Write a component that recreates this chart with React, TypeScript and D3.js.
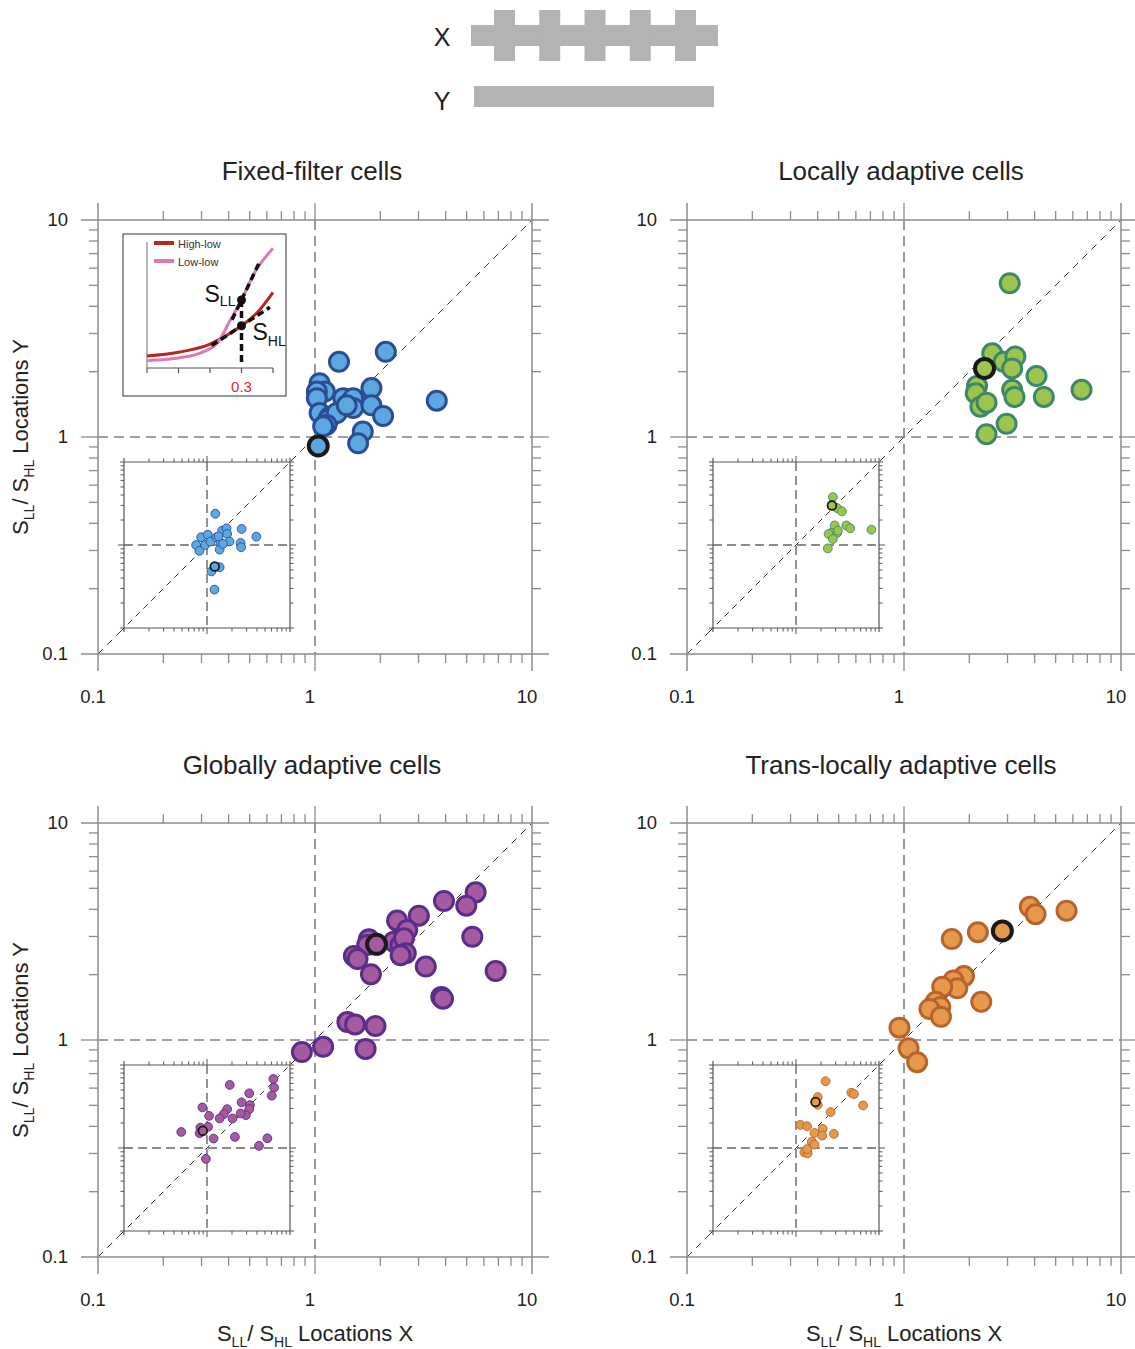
import React, { useEffect, useRef } from 'react'
import * as d3 from 'd3'

// ---- data ----
const fixedX = [1.29, 2.12, 1.05, 1.11, 1.02, 1.02, 1.82, 1.35, 1.5, 1.5, 1.82, 2.06, 1.05, 1.17, 1.15, 1.26, 1.13, 3.64, 1.66, 1.58, 1.09, 1.4]
const fixedY = [2.22, 2.47, 1.77, 1.62, 1.62, 1.51, 1.68, 1.51, 1.51, 1.36, 1.4, 1.25, 1.29, 1.24, 1.2, 1.29, 1.14, 1.47, 1.06, 0.935, 1.12, 1.4]
const fixedHi = [1.035, 0.909]
const fixedInsetX = [1.26, 0.85, 1.02, 0.74, 0.81, 0.95, 1.1, 1.3, 1.52, 1.72, 1.75, 1.45, 1.87, 1.42, 2.61, 2.54, 2.58, 3.93, 1.42, 1.13, 1.23, 1.38, 1.56]
const fixedInsetY = [2.38, 1.24, 1.33, 1.0, 0.85, 1.0, 1.1, 1.24, 1.49, 1.59, 1.36, 1.06, 1.1, 0.88, 1.56, 1.06, 0.94, 1.26, 0.54, 0.48, 0.29, 1.27, 1.03]
const fixedInsetHi = [1.24, 0.55]

const localX = [3.07, 2.55, 2.88, 3.26, 3.15, 4.08, 2.17, 2.14, 3.15, 3.23, 4.41, 6.58, 2.25, 2.4, 2.97, 2.4]
const localY = [5.11, 2.43, 2.22, 2.35, 2.07, 1.91, 1.72, 1.59, 1.65, 1.53, 1.53, 1.65, 1.38, 1.44, 1.15, 1.03]
const localHi = [2.35, 2.07]
const localInsetX = [2.78, 3.14, 3.58, 2.92, 4.04, 4.51, 8.11, 2.66, 3.14, 2.47, 2.78, 2.42, 3.2]
const localInsetY = [3.78, 2.78, 2.54, 1.72, 1.72, 1.59, 1.53, 1.4, 1.4, 1.36, 1.18, 0.91, 1.49]
const localInsetHi = [2.71, 3.0]

const globalX = [5.5, 3.93, 4.98, 3.01, 2.39, 2.66, 5.31, 1.77, 2.31, 2.48, 2.57, 1.74, 1.51, 1.57, 2.62, 2.48, 3.24, 1.81, 6.8, 3.82, 3.89, 1.41, 1.53, 1.9, 1.09, 1.71, 0.87]
const globalY = [4.79, 4.37, 4.16, 3.74, 3.55, 3.21, 2.99, 2.91, 2.84, 2.74, 2.94, 2.74, 2.44, 2.36, 2.51, 2.46, 2.18, 2.01, 2.08, 1.58, 1.55, 1.21, 1.18, 1.16, 0.93, 0.91, 0.88]
const globalHi = [1.92, 2.76]
const globalInsetX = [1.88, 6.31, 6.43, 6.03, 3.23, 2.61, 3.29, 3.23, 1.75, 2.94, 2.54, 1.59, 2.03, 1.42, 0.88, 1.06, 1.03, 0.83, 0.815, 0.49, 1.2, 2.17, 5.34, 4.23, 0.97]
const globalInsetY = [5.75, 6.79, 5.34, 4.27, 4.56, 3.55, 3.29, 2.94, 2.94, 2.49, 2.61, 2.56, 2.27, 2.27, 3.08, 2.44, 1.8, 1.76, 1.51, 1.56, 1.3, 1.36, 1.31, 1.06, 0.74]
const globalInsetHi = [0.89, 1.61]

const transX = [3.8, 4.04, 5.61, 2.19, 1.66, 1.89, 1.69, 1.76, 1.5, 2.27, 1.4, 1.47, 1.31, 1.48, 0.953, 1.05, 1.15]
const transY = [4.11, 3.8, 3.94, 3.14, 2.92, 1.97, 1.88, 1.73, 1.76, 1.5, 1.5, 1.42, 1.39, 1.28, 1.14, 0.915, 0.79]
const transHi = [2.84, 3.18]
const transInsetX = [2.27, 1.83, 1.83, 4.64, 5.0, 6.43, 2.61, 1.13, 1.36, 2.1, 1.67, 2.07, 2.86, 1.55, 1.67, 1.26, 1.38, 1.36]
const transInsetY = [6.37, 4.11, 3.32, 4.64, 4.47, 3.26, 2.71, 1.9, 1.83, 1.7, 1.52, 1.41, 1.48, 1.19, 1.1, 0.886, 0.861, 0.97]
const transInsetHi = [1.72, 3.58]

// schematic inset (threshold curves)
const schemTicks = [0, 0.1, 0.2, 0.3, 0.4]
const highLowX = [0, 0.1, 0.2, 0.25, 0.3, 0.35, 0.4]
const highLowY = [0.095, 0.125, 0.19, 0.255, 0.335, 0.44, 0.6]
const lowLowX = [0, 0.1, 0.18, 0.23, 0.26, 0.3, 0.34, 0.4]
const lowLowY = [0.06, 0.08, 0.13, 0.22, 0.36, 0.54, 0.75, 0.95]
const tangentLLX = [0.27, 0.36]
const tangentLLY = [0.383, 0.855]
const tangentHLX = [0.205, 0.39]
const tangentHLY = [0.178, 0.482]
const schemDotX = 0.3
const schemDotsY = [0.54, 0.335]

const stimulusBumps = [0, 1, 2, 3, 4]

const majorTicks = [0.1, 1, 10]
const tickLabels = ['0.1', '1', '10']
const minorTicks = [2, 3, 4, 5, 6, 7, 8, 9].flatMap((k) => [0.1 * k, k])

const titles = ['Fixed-filter cells', 'Locally adaptive cells', 'Globally adaptive cells', 'Trans-locally adaptive cells']

const FONT = "'Liberation Sans', Arial, Helvetica, sans-serif"
const SIZE = 434
const INSET = 166

const panels = [
  { x: fixedX, y: fixedY, hi: fixedHi, ix: fixedInsetX, iy: fixedInsetY, ihi: fixedInsetHi, fill: '#5ba8e0', stroke: '#2b4d95' },
  { x: localX, y: localY, hi: localHi, ix: localInsetX, iy: localInsetY, ihi: localInsetHi, fill: '#9cc54e', stroke: '#3d8869' },
  { x: globalX, y: globalY, hi: globalHi, ix: globalInsetX, iy: globalInsetY, ihi: globalInsetHi, fill: '#a65aa0', stroke: '#5a2d8b' },
  { x: transX, y: transY, hi: transHi, ix: transInsetX, iy: transInsetY, ihi: transInsetHi, fill: '#e6994b', stroke: '#b8632c' },
]

const layout = [
  { x0: 98, y0: 220, titleY: 180, yLabel: true, xLabel: false, schematic: true },
  { x0: 687, y0: 220, titleY: 180, yLabel: false, xLabel: false, schematic: false },
  { x0: 98, y0: 823, titleY: 774, yLabel: true, xLabel: true, schematic: false },
  { x0: 687, y0: 823, titleY: 774, yLabel: false, xLabel: true, schematic: false },
]

function ratioLabel(t: any, suffix: string) {
  t.append('tspan').text('S')
  t.append('tspan').attr('font-size', 14).attr('dy', 6).text('LL')
  t.append('tspan').attr('dy', -6).text('/ S')
  t.append('tspan').attr('font-size', 14).attr('dy', 6).text('HL')
  t.append('tspan').attr('dy', -6).text(' ' + suffix)
}

function drawStimulus(svg: any) {
  const g = svg.append('g')
  const gray = '#b3b3b3'
  const bx = d3.scaleLinear().domain([0, 4]).range([494, 675])
  g.append('rect').attr('x', 471).attr('y', 25).attr('width', 247).attr('height', 21).attr('fill', gray)
  g.selectAll('.bump')
    .data(stimulusBumps)
    .join('rect')
    .attr('x', (d: number) => bx(d))
    .attr('y', 10)
    .attr('width', 21)
    .attr('height', 51)
    .attr('fill', gray)
  g.append('rect').attr('x', 474).attr('y', 86).attr('width', 240).attr('height', 21).attr('fill', gray)
  g.append('text').attr('x', 442).attr('y', 46).attr('text-anchor', 'middle').attr('font-size', 25).attr('font-family', FONT).attr('fill', '#222').text('X')
  g.append('text').attr('x', 442).attr('y', 110).attr('text-anchor', 'middle').attr('font-size', 25).attr('font-family', FONT).attr('fill', '#222').text('Y')
}

function drawSchematic(g: any, l: any) {
  const left = l.x0 + 25
  const top = l.y0 + 14
  g.append('rect').attr('x', left).attr('y', top).attr('width', 163).attr('height', 162).attr('fill', '#fff').attr('stroke', '#333').attr('stroke-width', 1)
  const sx = d3.scaleLinear().domain([0, 0.4]).range([left + 24, left + 150])
  const sy = d3.scaleLinear().domain([0, 1]).range([top + 134, top + 8])

  g.append('line').attr('x1', sx(0)).attr('x2', sx(0)).attr('y1', sy(1)).attr('y2', sy(0)).attr('stroke', '#888').attr('stroke-width', 1.2)
  g.append('line').attr('x1', sx(0)).attr('x2', sx(0.4)).attr('y1', sy(0)).attr('y2', sy(0)).attr('stroke', '#555').attr('stroke-width', 1.2)
  schemTicks.forEach((t) => {
    g.append('line').attr('x1', sx(t)).attr('x2', sx(t)).attr('y1', sy(0)).attr('y2', sy(0) + 5).attr('stroke', '#555').attr('stroke-width', 1.2)
  })

  const line = d3
    .line<number>()
    .x((d) => sx(d))
    .curve(d3.curveMonotoneX)
  g.append('path')
    .attr('d', line.y((d, i) => sy(highLowY[i]))(highLowX))
    .attr('fill', 'none')
    .attr('stroke', '#b5271f')
    .attr('stroke-width', 3)
  g.append('path')
    .attr('d', line.y((d, i) => sy(lowLowY[i]))(lowLowX))
    .attr('fill', 'none')
    .attr('stroke', '#df78b3')
    .attr('stroke-width', 3)

  const dash = (xs: number[], ys: number[]) =>
    g.append('line')
      .attr('x1', sx(xs[0])).attr('y1', sy(ys[0]))
      .attr('x2', sx(xs[1])).attr('y2', sy(ys[1]))
      .attr('stroke', '#111').attr('stroke-width', 3.5).attr('stroke-dasharray', '7,4')
  dash(tangentLLX, tangentLLY)
  dash(tangentHLX, tangentHLY)
  dash([schemDotX, schemDotX], [schemDotsY[0], 0.04])
  schemDotsY.forEach((v) => {
    g.append('circle').attr('cx', sx(schemDotX)).attr('cy', sy(v)).attr('r', 4.5).attr('fill', '#111')
  })

  const s1 = g.append('text').attr('x', sx(schemDotX) - 37).attr('y', sy(schemDotsY[0]) + 2).attr('font-family', FONT).attr('font-size', 23).attr('fill', '#111')
  s1.append('tspan').text('S')
  s1.append('tspan').attr('font-size', 14).attr('dy', 4).text('LL')
  const s2 = g.append('text').attr('x', sx(schemDotX) + 11).attr('y', sy(schemDotsY[1]) + 14).attr('font-family', FONT).attr('font-size', 23).attr('fill', '#111')
  s2.append('tspan').text('S')
  s2.append('tspan').attr('font-size', 14).attr('dy', 6).text('HL')

  g.append('text').attr('x', sx(0.3)).attr('y', top + 158).attr('text-anchor', 'middle').attr('font-family', FONT).attr('font-size', 15).attr('fill', '#e3262b').text('0.3')

  const legend = [
    { label: 'High-low', color: '#b5271f' },
    { label: 'Low-low', color: '#df78b3' },
  ]
  legend.forEach((d, i) => {
    const ly = top + 9 + i * 18
    g.append('line').attr('x1', left + 31).attr('x2', left + 51).attr('y1', ly).attr('y2', ly).attr('stroke', d.color).attr('stroke-width', 4)
    g.append('text').attr('x', left + 55).attr('y', ly + 5).attr('font-family', FONT).attr('font-size', 11).attr('fill', '#333').text(d.label)
  })
}

function drawInset(g: any, p: any, left: number, top: number) {
  const x = d3.scaleLog().domain([0.1, 10]).range([left, left + INSET])
  const y = d3.scaleLog().domain([0.1, 10]).range([top + INSET, top])
  const col = '#555'
  g.append('rect').attr('x', left).attr('y', top).attr('width', INSET).attr('height', INSET).attr('fill', '#fff')
  // centre dashes
  g.append('line').attr('x1', x(1)).attr('x2', x(1)).attr('y1', y(10)).attr('y2', y(0.1)).attr('stroke', '#666').attr('stroke-width', 1.4).attr('stroke-dasharray', '9,5')
  g.append('line').attr('x1', x(0.1)).attr('x2', x(10)).attr('y1', y(1)).attr('y2', y(1)).attr('stroke', '#666').attr('stroke-width', 1.4).attr('stroke-dasharray', '9,5')
  g.append('line').attr('x1', x(0.1) - 4).attr('y1', y(0.1) + 4).attr('x2', x(10) + 4).attr('y2', y(10) - 4).attr('stroke', '#333').attr('stroke-width', 1).attr('stroke-dasharray', '6,5')
  // frame
  ;[0.1, 10].forEach((v) => {
    g.append('line').attr('x1', x(v)).attr('x2', x(v)).attr('y1', y(10) - 4).attr('y2', y(0.1) + 4).attr('stroke', col).attr('stroke-width', 1.2)
    g.append('line').attr('x1', x(0.1) - 4).attr('x2', x(10) + 4).attr('y1', y(v)).attr('y2', y(v)).attr('stroke', col).attr('stroke-width', 1.2)
  })
  const ticks = (vals: number[], len: number) =>
    vals.forEach((v) => {
      g.append('line').attr('x1', x(v)).attr('x2', x(v)).attr('y1', y(0.1)).attr('y2', y(0.1) + len).attr('stroke', col)
      g.append('line').attr('x1', x(v)).attr('x2', x(v)).attr('y1', y(10)).attr('y2', y(10) - len).attr('stroke', col)
      g.append('line').attr('y1', y(v)).attr('y2', y(v)).attr('x1', x(0.1)).attr('x2', x(0.1) - len).attr('stroke', col)
      g.append('line').attr('y1', y(v)).attr('y2', y(v)).attr('x1', x(10)).attr('x2', x(10) + len).attr('stroke', col)
    })
  ticks(minorTicks, 3.5)
  ticks([1], 6)

  g.selectAll(null)
    .data(p.ix)
    .join('circle')
    .attr('cx', (d: number) => x(d))
    .attr('cy', (d: number, i: number) => y(p.iy[i]))
    .attr('r', 4.4)
    .attr('fill', p.fill)
    .attr('stroke', p.stroke)
    .attr('stroke-width', 0.9)
  g.append('circle').attr('cx', x(p.ihi[0])).attr('cy', y(p.ihi[1])).attr('r', 4.4).attr('fill', p.fill).attr('stroke', '#1a1a1a').attr('stroke-width', 1.8)
}

function drawPanel(svg: any, p: any, l: any, title: string) {
  const g = svg.append('g')
  const x = d3.scaleLog().domain([0.1, 10]).range([l.x0, l.x0 + SIZE])
  const y = d3.scaleLog().domain([0.1, 10]).range([l.y0 + SIZE, l.y0])
  const ext = 17
  const frame = '#8c8c8c'

  // reference lines at 1
  g.append('line').attr('x1', x(1)).attr('x2', x(1)).attr('y1', y(10)).attr('y2', y(0.1)).attr('stroke', '#808080').attr('stroke-width', 1.6).attr('stroke-dasharray', '10,6')
  g.append('line').attr('x1', x(0.1)).attr('x2', x(10)).attr('y1', y(1)).attr('y2', y(1)).attr('stroke', '#808080').attr('stroke-width', 1.6).attr('stroke-dasharray', '10,6')
  // unity line
  g.append('line').attr('x1', x(0.1)).attr('y1', y(0.1)).attr('x2', x(10)).attr('y2', y(10)).attr('stroke', '#333').attr('stroke-width', 1).attr('stroke-dasharray', '7,6')

  // frame lines crossing at the corners
  ;[0.1, 10].forEach((v) => {
    g.append('line').attr('x1', x(v)).attr('x2', x(v)).attr('y1', y(10) - ext).attr('y2', y(0.1) + ext).attr('stroke', frame).attr('stroke-width', 1.5)
    g.append('line').attr('x1', x(0.1) - ext).attr('x2', x(10) + ext).attr('y1', y(v)).attr('y2', y(v)).attr('stroke', frame).attr('stroke-width', 1.5)
  })
  const ticks = (vals: number[], len: number) =>
    vals.forEach((v) => {
      g.append('line').attr('x1', x(v)).attr('x2', x(v)).attr('y1', y(0.1)).attr('y2', y(0.1) + len).attr('stroke', frame).attr('stroke-width', 1.3)
      g.append('line').attr('x1', x(v)).attr('x2', x(v)).attr('y1', y(10)).attr('y2', y(10) - len).attr('stroke', frame).attr('stroke-width', 1.3)
      g.append('line').attr('y1', y(v)).attr('y2', y(v)).attr('x1', x(0.1)).attr('x2', x(0.1) - len).attr('stroke', frame).attr('stroke-width', 1.3)
      g.append('line').attr('y1', y(v)).attr('y2', y(v)).attr('x1', x(10)).attr('x2', x(10) + len).attr('stroke', frame).attr('stroke-width', 1.3)
    })
  ticks(minorTicks, 9)
  ticks([1], ext)

  // tick labels
  majorTicks.forEach((v, i) => {
    g.append('text').attr('x', l.x0 - 30).attr('y', y(v) + 6).attr('text-anchor', 'end').attr('font-family', FONT).attr('font-size', 18.5).attr('fill', '#222').text(tickLabels[i])
    g.append('text').attr('x', x(v) - 5).attr('y', y(0.1) + 49).attr('text-anchor', 'middle').attr('font-family', FONT).attr('font-size', 18.5).attr('fill', '#222').text(tickLabels[i])
  })

  g.append('text').attr('x', x(1) - 3).attr('y', l.titleY).attr('text-anchor', 'middle').attr('font-family', FONT).attr('font-size', 26).attr('fill', '#222').text(title)

  if (l.yLabel) {
    const t = g.append('text').attr('transform', `translate(28,${y(1)}) rotate(-90)`).attr('text-anchor', 'middle').attr('font-family', FONT).attr('font-size', 22).attr('fill', '#222')
    ratioLabel(t, 'Locations Y')
  }
  if (l.xLabel) {
    const t = g.append('text').attr('x', x(1)).attr('y', y(0.1) + 84).attr('text-anchor', 'middle').attr('font-family', FONT).attr('font-size', 22).attr('fill', '#222')
    ratioLabel(t, 'Locations X')
  }

  if (l.schematic) drawSchematic(g, l)
  drawInset(g, p, l.x0 + 26, l.y0 + 242)

  g.selectAll(null)
    .data(p.x)
    .join('circle')
    .attr('cx', (d: number) => x(d))
    .attr('cy', (d: number, i: number) => y(p.y[i]))
    .attr('r', 9.5)
    .attr('fill', p.fill)
    .attr('stroke', p.stroke)
    .attr('stroke-width', 3)
  g.append('circle').attr('cx', x(p.hi[0])).attr('cy', y(p.hi[1])).attr('r', 9.5).attr('fill', p.fill).attr('stroke', '#1a1a1a').attr('stroke-width', 4)
}

function App() {
  const refSvg = useRef<SVGSVGElement>(null)
  useEffect(() => {
    if (!refSvg.current) return
    const svg = d3.select(refSvg.current)
    svg.selectAll('*').remove()
    drawStimulus(svg)
    panels.forEach((p, i) => drawPanel(svg, p, layout[i], titles[i]))
  }, [])
  return <svg ref={refSvg} width={1135} height={1349} style={{ position: 'absolute', left: 0, top: 0, background: '#fff' }} />
}

export default App
